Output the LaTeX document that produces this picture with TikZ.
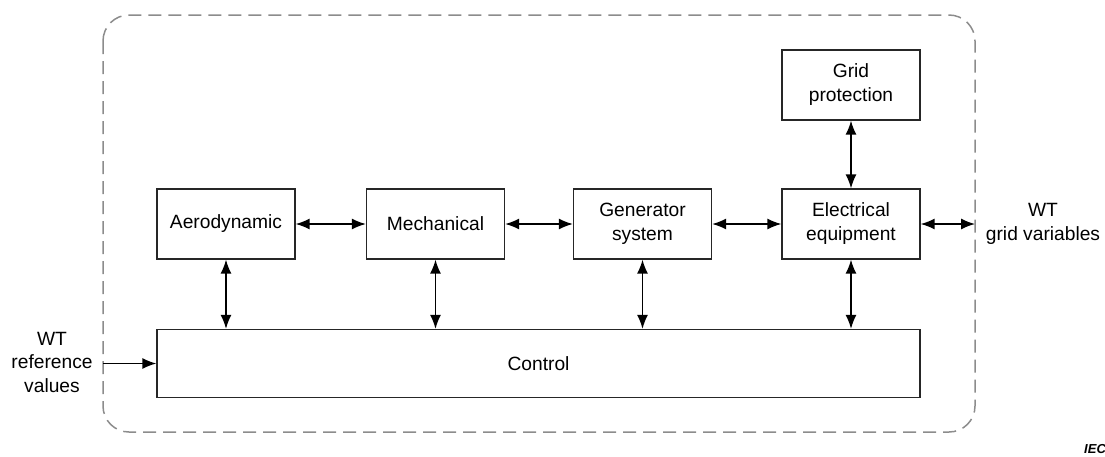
\documentclass[tikz,border=0pt]{standalone}
\usepackage{fontspec}
\setmainfont{Liberation Sans}
\usetikzlibrary{arrows.meta}
\begin{document}
\begin{tikzpicture}[x=1pt,y=-1pt,
  blk/.style={draw=black!85, line width=1.3pt, minimum width=138pt, minimum height=70pt, align=center, inner sep=0pt, font=\fontsize{19.2}{24}\selectfont},
  conn/.style={line width=1.4pt, {Latex[length=14pt,width=11pt]}-{Latex[length=14pt,width=11pt]}},
  conn1/.style={line width=1.4pt, -{Latex[length=14pt,width=11pt]}},
  frame/.style={draw=black!45, line width=1.5pt, dash pattern=on 13pt off 7pt, rounded corners=26pt},
  lbl/.style={align=center, font=\fontsize{19.2}{23.5}\selectfont}]
\useasboundingbox (0,0) rectangle (1105,456);
\draw[frame] (103,15) rectangle (975,432);
\node[blk] (aero) at (226,224) {Aerodynamic};
\node[blk] (mech) at (435.5,224) {Mechanical};
\node[blk] (gen) at (642.5,224) {Generator\\system};
\node[blk] (elec) at (851,224) {Electrical\\equipment};
\node[blk] (grid) at (851,85) {Grid\\protection};
\node[blk, minimum width=763pt, minimum height=68pt] (ctrl) at (538.5,363.5) {Control};
\coordinate (lin) at (103,363.5);
\coordinate (rout) at (975,224);
\draw[conn] (aero) -- (mech);
\draw[conn] (mech) -- (gen);
\draw[conn] (gen) -- (elec);
\draw[conn] (elec) -- (rout);
\draw[conn] (grid) -- (elec);
\draw[conn] (aero.south) -- (aero.south |- ctrl.north);
\draw[conn] (mech.south) -- (mech.south |- ctrl.north);
\draw[conn] (gen.south) -- (gen.south |- ctrl.north);
\draw[conn] (elec.south) -- (elec.south |- ctrl.north);
\draw[conn1] (lin) -- (ctrl.west);
\node[lbl] (wtref) at (52,362) {WT\\reference\\values};
\node[lbl] (wtgrid) at (1043,224) {WT\\grid variables};
\node[anchor=west, font=\fontsize{13}{15}\selectfont\bfseries\itshape, inner sep=0pt] (iec) at (1084,449) {IEC};
\end{tikzpicture}
\end{document}
